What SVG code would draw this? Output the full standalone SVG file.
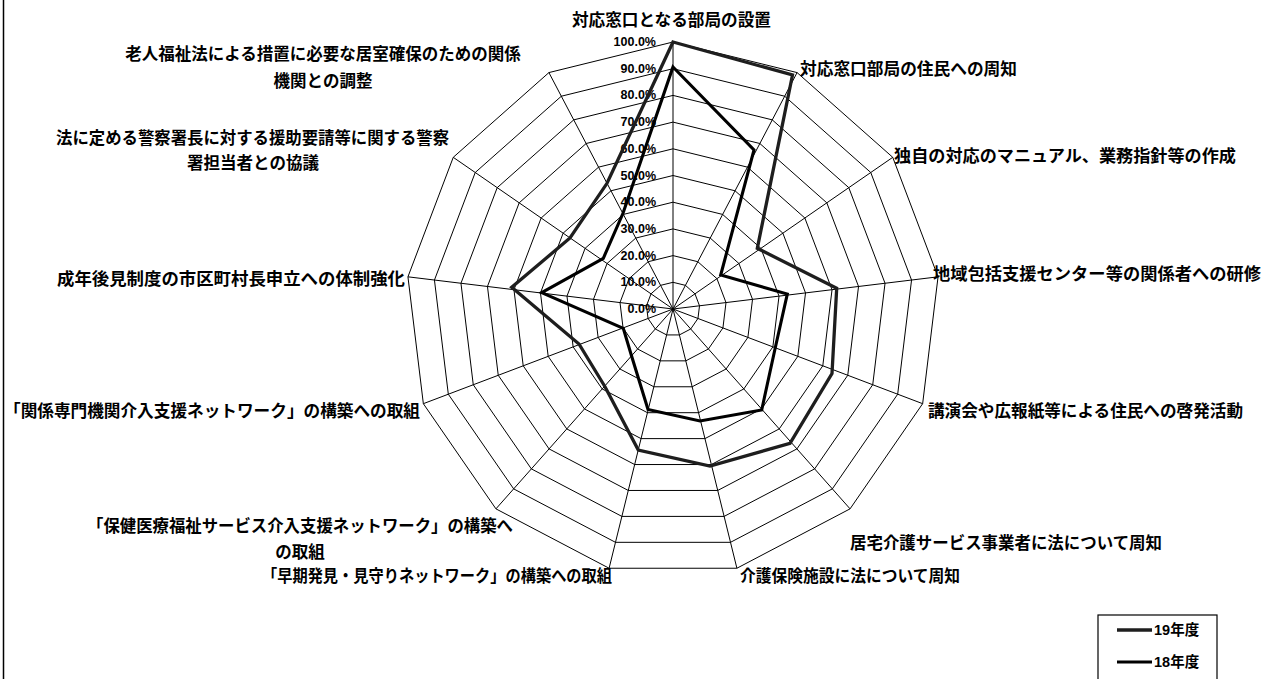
<svg xmlns="http://www.w3.org/2000/svg" xmlns:xlink="http://www.w3.org/1999/xlink" width="1279" height="679" viewBox="0 0 1279 679">
<style>
.bg{fill:#fff}
.grid{fill:none;stroke:#000;stroke-width:1}
.spoke{stroke:#000;stroke-width:1}
.lab{font-family:"Noto Sans CJK JP","Noto Sans CJK SC",sans-serif;font-size:16.5px;font-weight:700;fill:#000;dominant-baseline:central}
.tick{font-family:"Liberation Sans","DejaVu Sans",sans-serif;font-size:12.5px;font-weight:700;fill:#000;text-anchor:end;dominant-baseline:central}
.leg{font-family:"Liberation Sans","Noto Sans CJK JP",sans-serif;font-size:14.5px;font-weight:700;fill:#000;dominant-baseline:central}
.s19{fill:none;stroke:#1e1e1e;stroke-width:3.3;stroke-linejoin:miter}
.s18{fill:none;stroke:#000;stroke-width:3.1;stroke-linejoin:miter}
</style>
<defs>
<polygon id="ring" points="0,-1 0.46472,-0.88546 0.82298,-0.56806 0.99271,-0.12054 0.93502,0.35460 0.66312,0.74851 0.23932,0.97094 -0.23932,0.97094 -0.66312,0.74851 -0.93502,0.35460 -0.99271,-0.12054 -0.82298,-0.56806 -0.46472,-0.88546" class="grid" vector-effect="non-scaling-stroke"/>
</defs>
<rect class="bg" x="0" y="0" width="1279" height="679"/>
<line x1="3.5" y1="0" x2="3.5" y2="679" stroke="#000" stroke-width="1.5"/>
<g id="grid">
<use xlink:href="#ring" transform="translate(673 309) scale(26.7)"/>
<use xlink:href="#ring" transform="translate(673 309) scale(53.4)"/>
<use xlink:href="#ring" transform="translate(673 309) scale(80.1)"/>
<use xlink:href="#ring" transform="translate(673 309) scale(106.8)"/>
<use xlink:href="#ring" transform="translate(673 309) scale(133.5)"/>
<use xlink:href="#ring" transform="translate(673 309) scale(160.2)"/>
<use xlink:href="#ring" transform="translate(673 309) scale(186.9)"/>
<use xlink:href="#ring" transform="translate(673 309) scale(213.6)"/>
<use xlink:href="#ring" transform="translate(673 309) scale(240.3)"/>
<use xlink:href="#ring" transform="translate(673 309) scale(267)"/>
<g class="spoke">
<line x1="673" y1="309" x2="673" y2="42"/>
<line x1="673" y1="309" x2="797.08" y2="72.58"/>
<line x1="673" y1="309" x2="892.74" y2="157.33"/>
<line x1="673" y1="309" x2="938.05" y2="276.82"/>
<line x1="673" y1="309" x2="922.65" y2="403.68"/>
<line x1="673" y1="309" x2="850.05" y2="508.85"/>
<line x1="673" y1="309" x2="736.90" y2="568.24"/>
<line x1="673" y1="309" x2="609.10" y2="568.24"/>
<line x1="673" y1="309" x2="495.95" y2="508.85"/>
<line x1="673" y1="309" x2="423.35" y2="403.68"/>
<line x1="673" y1="309" x2="407.95" y2="276.82"/>
<line x1="673" y1="309" x2="453.26" y2="157.33"/>
<line x1="673" y1="309" x2="548.92" y2="72.58"/>
</g>
</g>
<g id="ticks">
<text class="tick" x="656" y="42">100.0%</text>
<text class="tick" x="656" y="68.7">90.0%</text>
<text class="tick" x="656" y="95.4">80.0%</text>
<text class="tick" x="656" y="122.1">70.0%</text>
<text class="tick" x="656" y="148.8">60.0%</text>
<text class="tick" x="656" y="175.5">50.0%</text>
<text class="tick" x="656" y="202.2">40.0%</text>
<text class="tick" x="656" y="228.9">30.0%</text>
<text class="tick" x="656" y="255.6">20.0%</text>
<text class="tick" x="656" y="282.3">10.0%</text>
<text class="tick" x="656" y="309">0.0%</text>
</g>
<g id="connectors">
<polygon id="series19" class="s19" points="673,42 792.5,75 757.3,248.3 836.7,288.3 832,373.5 790,443.3 710,466 638.3,450 605,386.7 579,344 511.7,287.3 570,238 607,183.3"/>
<polygon id="series18" class="s18" points="673,67 754,150 720.7,275 787.3,294 775,349 761.7,410 700,421 648,409.5 631.5,355.8 623.3,328.3 541.7,292.7 603.3,258.3 623,213.3"/>
</g>
<g id="label-k0"><text class="lab" x="572" y="19" textLength="199" lengthAdjust="spacingAndGlyphs">対応窓口となる部局の設置</text></g>
<g id="label-k1"><text class="lab" x="800" y="68" textLength="217" lengthAdjust="spacingAndGlyphs">対応窓口部局の住民への周知</text></g>
<g id="label-k2"><text class="lab" x="894" y="155" textLength="342" lengthAdjust="spacingAndGlyphs">独自の対応のマニュアル、業務指針等の作成</text></g>
<g id="label-k3"><text class="lab" x="933" y="273" textLength="328" lengthAdjust="spacingAndGlyphs">地域包括支援センター等の関係者への研修</text></g>
<g id="label-k4"><text class="lab" x="928" y="410" textLength="315" lengthAdjust="spacingAndGlyphs">講演会や広報紙等による住民への啓発活動</text></g>
<g id="label-k5"><text class="lab" x="850" y="542" textLength="312" lengthAdjust="spacingAndGlyphs">居宅介護サービス事業者に法について周知</text></g>
<g id="label-k6"><text class="lab" x="740" y="575" textLength="220" lengthAdjust="spacingAndGlyphs">介護保険施設に法について周知</text></g>
<g id="label-k7"><text class="lab" x="262" y="575" textLength="350" lengthAdjust="spacingAndGlyphs">「早期発見・見守りネットワーク」の構築への取組</text></g>
<g id="label-k8"><text class="lab" x="87" y="525" textLength="426" lengthAdjust="spacingAndGlyphs">「保健医療福祉サービス介入支援ネットワーク」の構築へ</text><text class="lab" x="300" y="551" text-anchor="middle">の取組</text></g>
<g id="label-k9"><text class="lab" x="4" y="410" textLength="416" lengthAdjust="spacingAndGlyphs">「関係専門機関介入支援ネットワーク」の構築への取組</text></g>
<g id="label-k10"><text class="lab" x="57" y="278" textLength="348" lengthAdjust="spacingAndGlyphs">成年後見制度の市区町村長申立への体制強化</text></g>
<g id="label-k11"><text class="lab" x="56" y="137" textLength="393" lengthAdjust="spacingAndGlyphs">法に定める警察署長に対する援助要請等に関する警察</text><text class="lab" x="253" y="162" text-anchor="middle">署担当者との協議</text></g>
<g id="label-k12"><text class="lab" x="323" y="53" text-anchor="middle">老人福祉法による措置に必要な居室確保のための関係</text><text class="lab" x="323" y="80" text-anchor="middle">機関との調整</text></g>
<g id="legend">
<rect x="1098" y="615" width="119" height="70" fill="#fff" stroke="#000" stroke-width="1.2"/>
<line x1="1117" y1="630" x2="1152" y2="630" class="s19"/>
<text class="leg" x="1154" y="630">19年度</text>
<line x1="1117" y1="662" x2="1152" y2="662" class="s18"/>
<text class="leg" x="1154" y="662">18年度</text>
</g>
</svg>
